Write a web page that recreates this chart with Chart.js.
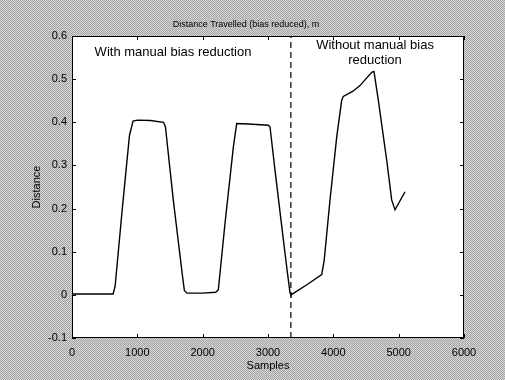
<!DOCTYPE html>
<html>
<head>
<meta charset="utf-8">
<script src="https://cdn.jsdelivr.net/npm/chart.js@4.4.1/dist/chart.umd.min.js"></script>
<style>
  html, body { margin: 0; padding: 0; background: #bdbdbd; }
  canvas { display: block; }
</style>
</head>
<body>
<canvas id="distChart" width="505" height="380"></canvas>
<script>
// Samples along the x axis and the distance read at each one
const samples = [0, 630, 660, 770, 880, 935, 1000, 1200, 1400, 1430, 1550, 1690, 1720, 1760, 2000, 2200,
    2240, 2342, 2470, 2521, 2700, 3005, 3031, 3107, 3235, 3290, 3337, 3352, 3600, 3822, 3860, 3949,
    4052, 4128, 4153, 4300, 4408, 4587, 4622, 4689, 4817, 4893, 4944, 5097];
const distance = [0.002, 0.002, 0.02, 0.2, 0.37, 0.403, 0.405, 0.404, 0.4, 0.39, 0.22, 0.045, 0.01, 0.004, 0.004, 0.006,
    0.012, 0.166, 0.343, 0.397, 0.396, 0.393, 0.389, 0.289, 0.128, 0.06, 0.005, 0.0, 0.024, 0.047, 0.08, 0.22,
    0.366, 0.451, 0.46, 0.472, 0.485, 0.516, 0.518, 0.451, 0.312, 0.22, 0.197, 0.239];

// Boundary between the two regimes
const splitSample = 3350;
const splitRange = [-0.1, 0.6];

// Axis ticks
const xTicks = [0, 1000, 2000, 3000, 4000, 5000, 6000];
const yTicks = [-0.1, 0, 0.1, 0.2, 0.3, 0.4, 0.5, 0.6];
const yTickLabels = ['-0.1', '0', '0.1', '0.2', '0.3', '0.4', '0.5', '0.6'];

// Text notes inside the plot: [text, sample, distance]
const notes = [
    ['With manual bias reduction', 1546, 0.561],
    ['Without manual bias', 4638, 0.578],
    ['reduction', 4638, 0.543]
];

const FONT = 'Arial, "Liberation Sans", sans-serif';

// Stippled grey backdrop like the scanned figure window
function stipple(ctx) {
    const tile = document.createElement('canvas');
    tile.width = 2;
    tile.height = 2;
    const t = tile.getContext('2d');
    t.fillStyle = '#d6d6d6';
    t.fillRect(0, 0, 2, 2);
    t.fillStyle = '#a4a4a4';
    t.fillRect(0, 0, 1, 1);
    t.fillRect(1, 1, 1, 1);
    return ctx.createPattern(tile, 'repeat');
}

/**
 * MATLAB-like frame: white axes box, inward ticks on all four sides, notes
 */
const frameBox = {
    id: 'frameBox',
    beforeDraw: (chart) => {
        const { ctx, width, height, chartArea: { left, right, top, bottom } } = chart;
        ctx.save();
        ctx.fillStyle = stipple(ctx);
        ctx.fillRect(0, 0, width, height);
        ctx.fillStyle = '#ffffff';
        ctx.fillRect(left, top, right - left, bottom - top);
        ctx.restore();
    },
    afterDraw: (chart) => {
        const { ctx, chartArea: { left, right, top, bottom }, scales: { x, y } } = chart;
        const len = 4;
        ctx.save();
        ctx.strokeStyle = '#000000';
        ctx.lineWidth = 1;
        ctx.strokeRect(left + 0.5, top + 0.5, right - left - 1, bottom - top - 1);

        ctx.beginPath();
        xTicks.forEach((v) => {
            const px = Math.round(x.getPixelForValue(v)) + 0.5;
            ctx.moveTo(px, bottom); ctx.lineTo(px, bottom - len);
            ctx.moveTo(px, top); ctx.lineTo(px, top + len);
        });
        yTicks.forEach((v) => {
            const py = Math.round(y.getPixelForValue(v)) + 0.5;
            ctx.moveTo(left, py); ctx.lineTo(left + len, py);
            ctx.moveTo(right, py); ctx.lineTo(right - len, py);
        });
        ctx.stroke();

        ctx.fillStyle = '#000000';
        ctx.font = '13px ' + FONT;
        ctx.textAlign = 'center';
        ctx.textBaseline = 'middle';
        notes.forEach(([text, sx, sy]) => {
            ctx.fillText(text, x.getPixelForValue(sx), y.getPixelForValue(sy));
        });
        ctx.restore();
    }
};

const chart = new Chart(document.getElementById('distChart').getContext('2d'), {
    type: 'line',
    data: {
        datasets: [{
            data: samples.map((s, i) => ({ x: s, y: distance[i] })),
            borderColor: '#000000',
            borderWidth: 1.4,
            pointRadius: 0,
            tension: 0
        }, {
            data: splitRange.map((v) => ({ x: splitSample, y: v })),
            borderColor: '#000000',
            borderWidth: 1.2,
            borderDash: [6, 4],
            pointRadius: 0
        }]
    },
    options: {
        responsive: false,
        animation: false,
        events: [],
        layout: { padding: { left: 28, right: 41, top: 0, bottom: 0 } },
        plugins: {
            legend: { display: false },
            tooltip: { enabled: false },
            title: {
                display: true,
                text: 'Distance Travelled (bias reduced), m',
                color: '#000000',
                font: { family: FONT, size: 9, weight: 'normal', lineHeight: 1.2 },
                padding: { top: 19.5, bottom: 5.7 }
            }
        },
        scales: {
            x: {
                type: 'linear',
                min: 0,
                max: 6000,
                afterBuildTicks: (scale) => { scale.ticks = xTicks.map((v) => ({ value: v })); },
                afterFit: (scale) => { scale.height = 42; },
                grid: { display: false, drawTicks: false },
                border: { display: false },
                ticks: {
                    color: '#000000',
                    padding: 8,
                    maxRotation: 0,
                    font: { family: FONT, size: 11 },
                    callback: (v) => String(v)
                },
                title: {
                    display: true,
                    text: 'Samples',
                    color: '#000000',
                    font: { family: FONT, size: 11, lineHeight: 1.2 },
                    padding: { top: 0, bottom: 7 }
                }
            },
            y: {
                type: 'linear',
                min: -0.1,
                max: 0.6,
                afterBuildTicks: (scale) => { scale.ticks = yTicks.map((v) => ({ value: v })); },
                afterFit: (scale) => { scale.width = 44; },
                grid: { display: false, drawTicks: false },
                border: { display: false },
                ticks: {
                    color: '#000000',
                    padding: 5,
                    font: { family: FONT, size: 11 },
                    callback: (v) => {
                        const i = yTicks.findIndex((t) => Math.abs(t - v) < 1e-9);
                        return i >= 0 ? yTickLabels[i] : '';
                    }
                },
                title: {
                    display: true,
                    text: 'Distance',
                    color: '#000000',
                    font: { family: FONT, size: 11, lineHeight: 1.2 },
                    padding: { top: 2, bottom: 0 }
                }
            }
        }
    },
    plugins: [frameBox]
});
</script>
</body>
</html>
